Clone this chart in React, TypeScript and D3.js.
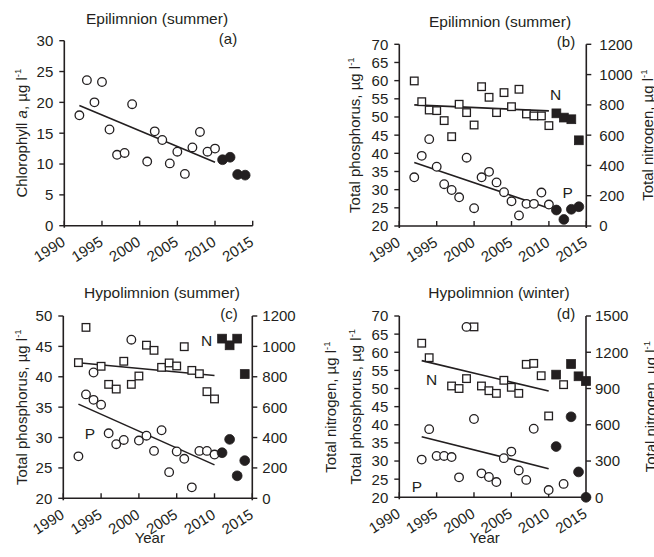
import React from "react";
import * as d3 from "d3";

const FONT = "'Liberation Sans', Arial, Helvetica, sans-serif";
const INK = "#231f20";

// ---------- shared ----------
const xTicks = [1990, 1995, 2000, 2005, 2010, 2015];
const trendYearsMain = [1992, 2010];
const trendYearsWinter = [1993, 2010];

// ---------- panel (a): chlorophyll a, epilimnion summer ----------
const chlYears = [1992, 1993, 1994, 1995, 1996, 1997, 1998, 1999, 2001, 2002, 2003, 2004, 2005, 2006, 2007, 2008, 2009, 2010, 2011, 2012, 2013, 2014];
const chlValues = [17.9, 23.6, 20.0, 23.3, 15.6, 11.5, 11.8, 19.7, 10.4, 15.3, 13.9, 10.1, 12.0, 8.4, 12.7, 15.2, 12.0, 12.5, 10.7, 11.1, 8.3, 8.2];
const chlFilledYears = [2011, 2012, 2013, 2014];
const chlTrend = [19.5, 10.3];
const chlTicks = [0, 5, 10, 15, 20, 25, 30];

// ---------- panel (b): TP / TN, epilimnion summer ----------
const epiYears = [1992, 1993, 1994, 1995, 1996, 1997, 1998, 1999, 2000, 2001, 2002, 2003, 2004, 2005, 2006, 2007, 2008, 2009, 2010, 2011, 2012, 2013, 2014];
const epiTP = [33.4, 39.3, 43.9, 36.3, 31.5, 29.9, 27.9, 38.8, 24.9, 33.4, 34.9, 32.0, 29.3, 26.8, 22.9, 26.1, 26.1, 29.2, 25.9, 24.4, 21.8, 24.6, 25.3];
const epiTN = [958, 821, 766, 762, 696, 590, 804, 749, 667, 920, 850, 749, 881, 788, 903, 740, 727, 727, 663, 744, 716, 705, 566];
const epiFilledYears = [2011, 2012, 2013, 2014];
const epiTPTrend = [37.5, 24.9];
const epiTNTrend = [800, 760];
const tp70Ticks = [20, 25, 30, 35, 40, 45, 50, 55, 60, 65, 70];
const tn1200Ticks = [0, 200, 400, 600, 800, 1000, 1200];

// ---------- panel (c): TP / TN, hypolimnion summer ----------
const hypSumPYears = [1992, 1993, 1994, 1994, 1995, 1996, 1997, 1998, 1999, 2000, 2001, 2002, 2003, 2004, 2005, 2006, 2007, 2008, 2009, 2010, 2011, 2012, 2013, 2014];
const hypSumTP = [26.9, 37.1, 36.2, 40.7, 35.4, 30.7, 28.9, 29.6, 46.1, 29.5, 30.3, 27.8, 31.2, 24.3, 27.7, 26.5, 21.8, 27.8, 27.8, 27.2, 27.5, 29.7, 23.7, 26.2];
const hypSumNYears = [1992, 1993, 1995, 1996, 1997, 1998, 1999, 2000, 2001, 2002, 2003, 2004, 2005, 2006, 2007, 2008, 2009, 2010, 2011, 2012, 2013, 2014];
const hypSumTN = [893, 1125, 869, 750, 719, 902, 750, 805, 1008, 974, 862, 891, 871, 998, 842, 820, 702, 654, 1051, 1007, 1051, 818];
const hypSumFilledYears = [2011, 2012, 2013, 2014];
const hypSumTPTrend = [35.5, 25.5];
const hypSumTNTrend = [892, 808];
const tp50Ticks = [20, 25, 30, 35, 40, 45, 50];

// ---------- panel (d): TP / TN, hypolimnion winter ----------
const hypWinPYears = [1993, 1994, 1995, 1996, 1997, 1998, 1999, 2000, 2001, 2002, 2003, 2004, 2005, 2006, 2007, 2008, 2010, 2011, 2012, 2013, 2014, 2015];
const hypWinTP = [30.4, 38.8, 31.4, 31.4, 31.1, 25.5, 67.0, 41.6, 26.6, 25.6, 24.2, 30.8, 32.6, 27.4, 24.8, 38.9, 22.0, 34.0, 23.7, 42.2, 27.0, 20.0];
const hypWinNYears = [1993, 1994, 1997, 1998, 1999, 2000, 2001, 2002, 2003, 2004, 2005, 2006, 2007, 2008, 2009, 2010, 2011, 2012, 2013, 2014, 2015];
const hypWinTN = [1275, 1155, 921, 900, 982, 1410, 921, 882, 860, 968, 910, 860, 1100, 1108, 1006, 673, 1015, 932, 1103, 1001, 962];
const hypWinFilledYears = [2011, 2013, 2014, 2015];
const hypWinTPTrend = [36.7, 27.9];
const hypWinTNTrend = [1131, 879];
const tn1500Ticks = [0, 300, 600, 900, 1200, 1500];

type Box = { l: number; r: number; t: number; b: number };
type Series = {
  years: number[];
  values: number[];
  filled: number[];
  shape: "circle" | "square";
  axis: "left" | "right";
};
type Trend = { years: number[]; values: number[]; axis: "left" | "right" };
type Note = { text: string; x: number; y: number };

function Unit({ pre }: { pre: string }) {
  return (
    <>
      {pre}
      <tspan dy={-6} fontSize={9.5}>-1</tspan>
    </>
  );
}

function Panel(props: {
  box: Box;
  title: string;
  titleX: number;
  titleY: number;
  tag: string;
  tagX: number;
  leftDomain: [number, number];
  leftTicks: number[];
  rightDomain?: [number, number];
  rightTicks?: number[];
  leftLabel: React.ReactNode;
  leftLabelX: number;
  rightLabel?: React.ReactNode;
  rightLabelX?: number;
  rightGap?: number;
  series: Series[];
  trends: Trend[];
  notes: Note[];
  showYear: boolean;
}) {
  const { box } = props;
  const x = d3.scaleLinear().domain([1990, 2015]).range([box.l, box.r]);
  const yL = d3.scaleLinear().domain(props.leftDomain).range([box.b, box.t]);
  const yR = props.rightDomain
    ? d3.scaleLinear().domain(props.rightDomain).range([box.b, box.t])
    : null;
  const yOf = (axis: "left" | "right") => (axis === "left" ? yL : (yR as d3.ScaleLinear<number, number>));
  const line = d3.line<[number, number]>().x((d) => d[0]).y((d) => d[1]);
  const midY = (box.t + box.b) / 2;
  const rightGap = props.rightGap ?? 10;

  return (
    <g>
      {/* title */}
      <text x={props.titleX} y={props.titleY} textAnchor="middle" fontSize={15.5} fill={INK}>
        {props.title}
      </text>
      <text x={props.tagX} y={box.t + 3} textAnchor="middle" fontSize={15} fill={INK}>
        {props.tag}
      </text>

      {/* axes */}
      <line x1={box.l} x2={box.l} y1={box.t} y2={box.b + 2} stroke={INK} strokeWidth={1.6} />
      <line x1={box.l} x2={box.r} y1={box.b} y2={box.b} stroke={INK} strokeWidth={1.6} />
      {yR && <line x1={box.r} x2={box.r} y1={box.t} y2={box.b + 2} stroke={INK} strokeWidth={1.6} />}

      {xTicks.map((t) => (
        <g key={"xt" + t}>
          <line x1={x(t)} x2={x(t)} y1={box.b} y2={box.b - 5} stroke={INK} strokeWidth={1.4} />
          <text
            transform={`translate(${x(t) + 2},${box.b + 19}) rotate(-32)`}
            textAnchor="end"
            fontSize={15}
            fill={INK}
          >
            {t}
          </text>
        </g>
      ))}

      {props.leftTicks.map((t) => (
        <g key={"yl" + t}>
          <line x1={box.l - 5} x2={box.l} y1={yL(t)} y2={yL(t)} stroke={INK} strokeWidth={1.4} />
          <text x={box.l - 11} y={yL(t)} dy="0.36em" textAnchor="end" fontSize={15} fill={INK}>
            {t}
          </text>
        </g>
      ))}

      {yR &&
        (props.rightTicks || []).map((t) => (
          <g key={"yr" + t}>
            <line x1={box.r} x2={box.r + 5} y1={yR(t)} y2={yR(t)} stroke={INK} strokeWidth={1.4} />
            <text x={box.r + rightGap} y={yR(t)} dy="0.36em" textAnchor="start" fontSize={15} fill={INK}>
              {t}
            </text>
          </g>
        ))}

      {/* axis labels */}
      <text
        transform={`translate(${props.leftLabelX},${midY}) rotate(-90)`}
        textAnchor="middle"
        fontSize={15}
        fill={INK}
      >
        {props.leftLabel}
      </text>
      {props.rightLabel && (
        <text
          transform={`translate(${props.rightLabelX},${midY}) rotate(-90)`}
          textAnchor="middle"
          fontSize={15}
          fill={INK}
        >
          {props.rightLabel}
        </text>
      )}
      {props.showYear && (
        <text x={(box.l + box.r) / 2 - 8} y={543} textAnchor="middle" fontSize={15} fill={INK}>
          Year
        </text>
      )}

      {/* trend lines */}
      {props.trends.map((tr, i) => {
        const y = yOf(tr.axis);
        const pts: [number, number][] = tr.years.map((yr, k) => [x(yr), y(tr.values[k])]);
        return <path key={"tr" + i} d={line(pts) || ""} fill="none" stroke={INK} strokeWidth={1.6} />;
      })}

      {/* markers */}
      {props.series.map((s, si) => {
        const y = yOf(s.axis);
        return (
          <g key={"s" + si}>
            {s.years.map((yr, k) => {
              const filled = s.filled.includes(yr);
              const cx = x(yr);
              const cy = y(s.values[k]);
              if (s.shape === "circle") {
                return (
                  <circle
                    key={k}
                    cx={cx}
                    cy={cy}
                    r={filled ? 4.9 : 4.3}
                    fill={filled ? INK : "#fff"}
                    stroke={INK}
                    strokeWidth={filled ? 0.8 : 1.3}
                  />
                );
              }
              const h = filled ? 4.4 : 3.8;
              return (
                <rect
                  key={k}
                  x={cx - h}
                  y={cy - h}
                  width={2 * h}
                  height={2 * h}
                  fill={filled ? INK : "#fff"}
                  stroke={INK}
                  strokeWidth={filled ? 0.8 : 1.3}
                />
              );
            })}
          </g>
        );
      })}

      {props.notes.map((n, i) => (
        <text key={"n" + i} x={n.x} y={n.y} textAnchor="middle" fontSize={15.5} fill={INK}>
          {n.text}
        </text>
      ))}
    </g>
  );
}

export default function App() {
  const tpLabel = <Unit pre="Total phosphorus, µg l" />;
  const tnLabel = <Unit pre="Total nitrogen, µg l" />;
  const chlLabel = (
    <>
      Chlorophyll <tspan fontStyle="italic">a</tspan>, µg l
      <tspan dy={-6} fontSize={9.5}>-1</tspan>
    </>
  );

  return (
    <svg
      width={654}
      height={557}
      style={{ position: "absolute", left: 0, top: 0, background: "#fff" }}
      fontFamily={FONT}
    >
      <rect width={654} height={557} fill="#fff" />

      {/* (c) right label sits under (d); draw (c) first */}
      <Panel
        box={{ l: 63.3, r: 252.3, t: 316, b: 498.3 }}
        title="Hypolimnion (summer)"
        titleX={162}
        titleY={298}
        tag="(c)"
        tagX={229}
        leftDomain={[20, 50]}
        leftTicks={tp50Ticks}
        rightDomain={[0, 1200]}
        rightTicks={tn1200Ticks}
        rightGap={10}
        leftLabel={tpLabel}
        leftLabelX={27}
        rightLabel={tnLabel}
        rightLabelX={336}
        series={[
          { years: hypSumNYears, values: hypSumTN, filled: hypSumFilledYears, shape: "square", axis: "right" },
          { years: hypSumPYears, values: hypSumTP, filled: hypSumFilledYears, shape: "circle", axis: "left" },
        ]}
        trends={[
          { years: trendYearsMain, values: hypSumTNTrend, axis: "right" },
          { years: trendYearsMain, values: hypSumTPTrend, axis: "left" },
        ]}
        notes={[
          { text: "N", x: 206.7, y: 345.5 },
          { text: "P", x: 90, y: 439 },
        ]}
        showYear={true}
      />

      <Panel
        box={{ l: 64.3, r: 252.7, t: 40.7, b: 225.7 }}
        title="Epilimnion (summer)"
        titleX={157}
        titleY={24}
        tag="(a)"
        tagX={228}
        leftDomain={[0, 30]}
        leftTicks={chlTicks}
        leftLabel={chlLabel}
        leftLabelX={27}
        series={[{ years: chlYears, values: chlValues, filled: chlFilledYears, shape: "circle", axis: "left" }]}
        trends={[{ years: trendYearsMain, values: chlTrend, axis: "left" }]}
        notes={[]}
        showYear={false}
      />

      <Panel
        box={{ l: 399.3, r: 586.3, t: 44.3, b: 226 }}
        title="Epilimnion (summer)"
        titleX={500}
        titleY={27}
        tag="(b)"
        tagX={566}
        leftDomain={[20, 70]}
        leftTicks={tp70Ticks}
        rightDomain={[0, 1200]}
        rightTicks={tn1200Ticks}
        rightGap={13}
        leftLabel={tpLabel}
        leftLabelX={360}
        rightLabel={tnLabel}
        rightLabelX={653}
        series={[
          { years: epiYears, values: epiTN, filled: epiFilledYears, shape: "square", axis: "right" },
          { years: epiYears, values: epiTP, filled: epiFilledYears, shape: "circle", axis: "left" },
        ]}
        trends={[
          { years: trendYearsMain, values: epiTNTrend, axis: "right" },
          { years: trendYearsMain, values: epiTPTrend, axis: "left" },
        ]}
        notes={[
          { text: "N", x: 555.7, y: 99.5 },
          { text: "P", x: 567.7, y: 198 },
        ]}
        showYear={false}
      />

      <Panel
        box={{ l: 399.3, r: 586, t: 316, b: 497.3 }}
        title="Hypolimnion (winter)"
        titleX={499}
        titleY={298}
        tag="(d)"
        tagX={566}
        leftDomain={[20, 70]}
        leftTicks={tp70Ticks}
        rightDomain={[0, 1500]}
        rightTicks={tn1500Ticks}
        rightGap={9}
        leftLabel={tpLabel}
        leftLabelX={361}
        rightLabel={tnLabel}
        rightLabelX={656}
        series={[
          { years: hypWinNYears, values: hypWinTN, filled: hypWinFilledYears, shape: "square", axis: "right" },
          { years: hypWinPYears, values: hypWinTP, filled: hypWinFilledYears, shape: "circle", axis: "left" },
        ]}
        trends={[
          { years: trendYearsWinter, values: hypWinTNTrend, axis: "right" },
          { years: trendYearsWinter, values: hypWinTPTrend, axis: "left" },
        ]}
        notes={[
          { text: "N", x: 431.5, y: 385 },
          { text: "P", x: 417, y: 491.5 },
        ]}
        showYear={true}
      />
    </svg>
  );
}
